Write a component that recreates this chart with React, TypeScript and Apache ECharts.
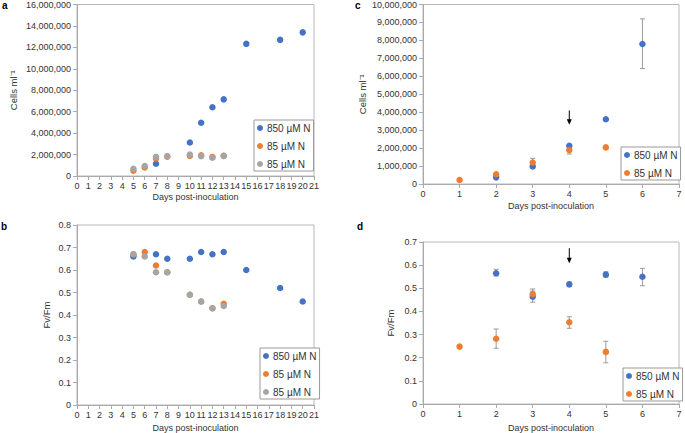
import React, { useEffect, useRef } from "react";
import * as echarts from "echarts";

const N850 = "850 µM N";
const N85 = "85 µM N";
const BLUE = "#4472C4";
const ORANGE = "#ED7D31";
const GRAY = "#A5A5A5";
const ERR = "#9a9a9a";
const FONT = "Liberation Sans, Arial, Helvetica, sans-serif";

// Panel a: cell density
const aBlueDays = [7, 10, 11, 12, 13, 15, 18, 20];
const aBlueCells = [1140000, 3120000, 4970000, 6410000, 7150000, 12330000, 12700000, 13400000];
const aOrangeDays = [5, 6, 7, 8, 10, 11, 12, 13];
const aOrangeCells = [490000, 800000, 1640000, 1800000, 1880000, 1940000, 1780000, 1880000];
const aGrayDays = [5, 6, 7, 8, 10, 11, 12, 13];
const aGrayCells = [680000, 930000, 1780000, 1850000, 2000000, 1850000, 1700000, 1880000];

// Panel b: Fv/Fm
const bBlueDays = [5, 7, 8, 10, 11, 12, 13, 15, 18, 20];
const bBlueFvFm = [0.66, 0.67, 0.65, 0.65, 0.68, 0.67, 0.68, 0.6, 0.52, 0.46];
const bOrangeDays = [5, 6, 7, 8, 10, 11, 12, 13];
const bOrangeFvFm = [0.67, 0.68, 0.62, 0.59, 0.49, 0.46, 0.43, 0.45];
const bGrayDays = [5, 6, 7, 8, 10, 11, 12, 13];
const bGrayFvFm = [0.67, 0.66, 0.59, 0.59, 0.49, 0.46, 0.43, 0.44];

// Panel c: cell density with error bars
const cBlueDays = [2, 3, 4, 5, 6];
const cBlueCells = [370000, 980000, 2130000, 3610000, 7800000];
const cBlueErrDays = [6];
const cBlueErrLow = [6430000];
const cBlueErrHigh = [9200000];
const cOrangeDays = [1, 2, 3, 4, 5];
const cOrangeCells = [220000, 540000, 1200000, 1890000, 2040000];
const cOrangeErrDays = [3, 4];
const cOrangeErrLow = [980000, 1670000];
const cOrangeErrHigh = [1430000, 2080000];
const cArrow = [4, 4100000, 3300000];

// Panel d: Fv/Fm with error bars
const dBlueDays = [2, 3, 4, 5, 6];
const dBlueFvFm = [0.565, 0.464, 0.517, 0.559, 0.55];
const dBlueErrLow = [0.553, 0.44, 0.508, 0.548, 0.511];
const dBlueErrHigh = [0.582, 0.488, 0.527, 0.571, 0.586];
const dOrangeDays = [1, 2, 3, 4, 5];
const dOrangeFvFm = [0.248, 0.282, 0.475, 0.353, 0.225];
const dOrangeErrDays = [2, 3, 4, 5];
const dOrangeErrLow = [0.241, 0.455, 0.327, 0.178];
const dOrangeErrHigh = [0.324, 0.497, 0.377, 0.271];
const dArrow = [4, 0.673, 0.608];

const X_TITLE = "Days post-inoculation";
const Y_CELLS = "Cells ml⁻¹";
const Y_FVFM = "Fv/Fm";

const zip = (xs: number[], ys: number[]) => xs.map((x, i) => [x, ys[i]]);
const zip3 = (xs: number[], a: number[], b: number[]) => xs.map((x, i) => [x, a[i], b[i]]);

const errRender = (_p: any, api: any) => {
  const x = api.value(0);
  const lo = api.coord([x, api.value(1)]);
  const hi = api.coord([x, api.value(2)]);
  const w = 2.5;
  const style = { stroke: ERR, lineWidth: 1 };
  return {
    type: "group",
    children: [
      { type: "line", shape: { x1: lo[0], y1: lo[1], x2: hi[0], y2: hi[1] }, style },
      { type: "line", shape: { x1: lo[0] - w, y1: lo[1], x2: lo[0] + w, y2: lo[1] }, style },
      { type: "line", shape: { x1: hi[0] - w, y1: hi[1], x2: hi[0] + w, y2: hi[1] }, style },
    ],
  };
};

const arrowRender = (_p: any, api: any) => {
  const x = api.value(0);
  const top = api.coord([x, api.value(1)]);
  const tip = api.coord([x, api.value(2)]);
  return {
    type: "group",
    children: [
      { type: "line", shape: { x1: top[0], y1: top[1], x2: tip[0], y2: tip[1] - 3 }, style: { stroke: "#000", lineWidth: 1 } },
      {
        type: "polygon",
        shape: { points: [[tip[0] - 2.5, tip[1] - 5.5], [tip[0] + 2.5, tip[1] - 5.5], [tip[0], tip[1]]] },
        style: { fill: "#000" },
      },
    ],
  };
};

export default function App() {
  const ref = useRef<HTMLDivElement>(null);
  useEffect(() => {
    if (!ref.current) return;
    const chart = echarts.init(ref.current, undefined, { renderer: "svg" });

    const grids = [
      { left: 77, top: 3, width: 237, height: 173 },
      { left: 77, top: 225, width: 237, height: 180 },
      { left: 423, top: 4, width: 256, height: 180 },
      { left: 423, top: 242, width: 256, height: 162 },
    ].map((g) => ({ ...g, show: true, borderColor: "#b8b8b8", borderWidth: 1, backgroundColor: "transparent" }));

    const axisLine = { show: true, lineStyle: { color: "#aaaaaa", width: 1 } };
    const axisTick = { show: true, length: 4, lineStyle: { color: "#aaaaaa" } };
    const labelStyle = { color: "#333", fontSize: 9, fontFamily: FONT };

    const xAxis = [
      { max: 21, gap: 16 },
      { max: 21, gap: 18 },
      { max: 7, gap: 17 },
      { max: 7, gap: 19 },
    ].map((o, i) => ({
      type: "value",
      gridIndex: i,
      min: 0,
      max: o.max,
      interval: 1,
      splitLine: { show: false },
      axisLine,
      axisTick,
      axisLabel: { ...labelStyle, margin: 5 },
      name: X_TITLE,
      nameLocation: "middle",
      nameGap: o.gap,
      nameTextStyle: { color: "#333", fontSize: 9, fontFamily: FONT },
    }));

    const commaFmt = (v: number) => v.toLocaleString("en-US");
    const yAxis = [
      { max: 16000000, interval: 2000000, name: Y_CELLS, gap: 59, fmt: commaFmt },
      { max: 0.8, interval: 0.1, name: Y_FVFM, gap: 26, fmt: undefined },
      { max: 10000000, interval: 1000000, name: Y_CELLS, gap: 56, fmt: commaFmt },
      { max: 0.7, interval: 0.1, name: Y_FVFM, gap: 28, fmt: undefined },
    ].map((o, i) => ({
      type: "value",
      gridIndex: i,
      min: 0,
      max: o.max,
      interval: o.interval,
      splitLine: { show: false },
      axisLine,
      axisTick,
      axisLabel: { ...labelStyle, margin: 6, formatter: o.fmt },
      name: o.name,
      nameLocation: "middle",
      nameGap: o.gap,
      nameTextStyle: { color: "#333", fontSize: 9.5, fontFamily: FONT },
    }));

    const scatter = (name: string, idx: number, color: string, data: number[][]) => ({
      type: "scatter",
      name,
      xAxisIndex: idx,
      yAxisIndex: idx,
      symbol: "circle",
      symbolSize: 6.5,
      itemStyle: { color, opacity: 1 },
      data,
      z: 3,
    });
    const errs = (idx: number, data: number[][]) => ({
      type: "custom",
      xAxisIndex: idx,
      yAxisIndex: idx,
      renderItem: errRender,
      encode: { x: 0, y: [1, 2] },
      data,
      z: 2,
      silent: true,
    });
    const arrow = (idx: number, a: number[]) => ({
      type: "custom",
      xAxisIndex: idx,
      yAxisIndex: idx,
      renderItem: arrowRender,
      encode: { x: 0, y: [1, 2] },
      data: [a],
      z: 4,
      silent: true,
    });

    const series = [
      scatter(`${N850}#a`, 0, BLUE, zip(aBlueDays, aBlueCells)),
      scatter(`${N85}#a`, 0, ORANGE, zip(aOrangeDays, aOrangeCells)),
      scatter(`${N85}#a2`, 0, GRAY, zip(aGrayDays, aGrayCells)),
      scatter(`${N850}#b`, 1, BLUE, zip(bBlueDays, bBlueFvFm)),
      scatter(`${N85}#b`, 1, ORANGE, zip(bOrangeDays, bOrangeFvFm)),
      scatter(`${N85}#b2`, 1, GRAY, zip(bGrayDays, bGrayFvFm)),
      errs(2, zip3(cBlueErrDays, cBlueErrLow, cBlueErrHigh)),
      errs(2, zip3(cOrangeErrDays, cOrangeErrLow, cOrangeErrHigh)),
      scatter(`${N850}#c`, 2, BLUE, zip(cBlueDays, cBlueCells)),
      scatter(`${N85}#c`, 2, ORANGE, zip(cOrangeDays, cOrangeCells)),
      arrow(2, cArrow),
      errs(3, zip3(dBlueDays, dBlueErrLow, dBlueErrHigh)),
      errs(3, zip3(dOrangeErrDays, dOrangeErrLow, dOrangeErrHigh)),
      scatter(`${N850}#d`, 3, BLUE, zip(dBlueDays, dBlueFvFm)),
      scatter(`${N85}#d`, 3, ORANGE, zip(dOrangeDays, dOrangeFvFm)),
      arrow(3, dArrow),
    ];

    const legend = (left: number, top: number, names: string[]) => ({
      left,
      top,
      orient: "vertical",
      data: names,
      selectedMode: false,
      icon: "circle",
      itemWidth: 6,
      itemHeight: 6,
      itemGap: 6,
      padding: [2, 3, 1, 3],
      borderColor: "#999",
      borderWidth: 1,
      backgroundColor: "#fff",
      formatter: (n: string) => n.split("#")[0],
      textStyle: { color: "#333", fontSize: 10, fontFamily: FONT, lineHeight: 12, padding: [0, 0, 0, -1] },
    });

    const labelText = (text: string, left: number, top: number) => ({
      type: "text",
      left,
      top,
      style: { text, fill: "#000", font: `bold 10px ${FONT}` },
    });

    chart.setOption({
      animation: false,
      backgroundColor: "#fff",
      grid: grids,
      xAxis,
      yAxis,
      legend: [
        legend(254, 120, [`${N850}#a`, `${N85}#a`, `${N85}#a2`]),
        legend(260, 348, [`${N850}#b`, `${N85}#b`, `${N85}#b2`]),
        legend(621, 147, [`${N850}#c`, `${N85}#c`]),
        legend(623, 368, [`${N850}#d`, `${N85}#d`]),
      ],
      series,
      graphic: [
        labelText("a", 2, 0),
        labelText("b", 1, 221),
        labelText("c", 355, 0),
        labelText("d", 357, 221),
      ],
    } as any);
    return () => chart.dispose();
  }, []);
  return <div ref={ref} style={{ position: "absolute", left: 0, top: 0, width: 685, height: 433 }} />;
}
